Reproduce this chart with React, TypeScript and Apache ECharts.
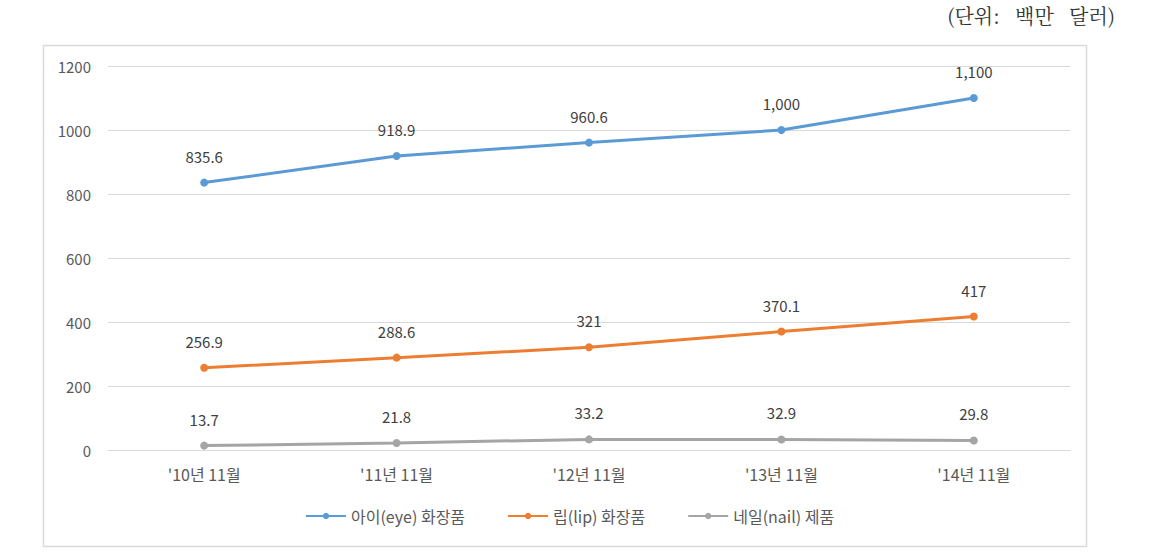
import React, { useEffect, useRef } from "react";
import * as echarts from "echarts";

const categories = ["'10년 11월", "'11년 11월", "'12년 11월", "'13년 11월", "'14년 11월"];
const seriesNames = ["아이(eye) 화장품", "립(lip) 화장품", "네일(nail) 제품"];
const eyeValues = [835.6, 918.9, 960.6, 1000, 1100];
const lipValues = [256.9, 288.6, 321, 370.1, 417];
const nailValues = [13.7, 21.8, 33.2, 32.9, 29.8];
const colors = ["#5B9BD5", "#ED7D31", "#A5A5A5"];
const unitText = "(단위:   백만   달러)";

const fmt = (v: number) => {
  if (v >= 1000) return v.toLocaleString("en-US");
  return String(v);
};

export default function App() {
  const ref = useRef<HTMLDivElement>(null);
  useEffect(() => {
    if (!ref.current) return;
    const chart = echarts.init(ref.current, null, { renderer: "svg" });
    const font = "'Noto Sans CJK KR', 'Noto Sans', sans-serif";
    const data = [eyeValues, lipValues, nailValues];
    chart.setOption({
      animation: false,
      backgroundColor: "#ffffff",
      textStyle: { fontFamily: font },
      graphic: [
        {
          type: "rect",
          shape: { x: 43.5, y: 45.5, width: 1043, height: 501 },
          style: { fill: "none", stroke: "#d9d9d9", lineWidth: 1.5 },
          z: -1,
        },
        {
          type: "text",
          right: 38,
          top: 5,
          style: {
            text: unitText,
            fill: "#333333",
            font: "20px 'Noto Serif CJK KR', 'Liberation Serif', serif",
          },
        },
      ],
      grid: { left: 108, right: 83, top: 66, bottom: 103 },
      xAxis: {
        type: "category",
        data: categories,
        boundaryGap: true,
        axisLine: { show: true, lineStyle: { color: "#d9d9d9", width: 1 } },
        axisTick: { show: false },
        axisLabel: { color: "#595959", fontSize: 16, margin: 16, fontFamily: font },
      },
      yAxis: {
        type: "value",
        min: 0,
        max: 1200,
        interval: 200,
        axisLine: { show: false },
        axisTick: { show: false },
        axisLabel: {
          color: "#595959",
          fontSize: 15,
          margin: 17,
          fontFamily: font,
          formatter: (v: number) => String(v),
        },
        splitLine: { lineStyle: { color: "#d9d9d9", width: 1 } },
      },
      legend: {
        bottom: 24,
        left: 300,
        itemWidth: 40,
        itemHeight: 8,
        itemGap: 42,
        textStyle: { color: "#595959", fontSize: 16, fontFamily: font },
        data: seriesNames,
      },
      series: seriesNames.map((name, i) => ({
        name,
        type: "line",
        data: data[i],
        symbol: "circle",
        symbolSize: 8,
        color: colors[i],
        lineStyle: { width: 3, color: colors[i] },
        itemStyle: { color: colors[i] },
        label: {
          show: true,
          position: "top",
          distance: 15,
          color: "#404040",
          fontSize: 15,
          fontFamily: font,
          formatter: (p: any) => fmt(p.value),
        },
      })),
    });
    return () => chart.dispose();
  }, []);
  return (
    <div
      ref={ref}
      style={{ position: "absolute", left: 0, top: 0, width: 1153, height: 553 }}
    />
  );
}
